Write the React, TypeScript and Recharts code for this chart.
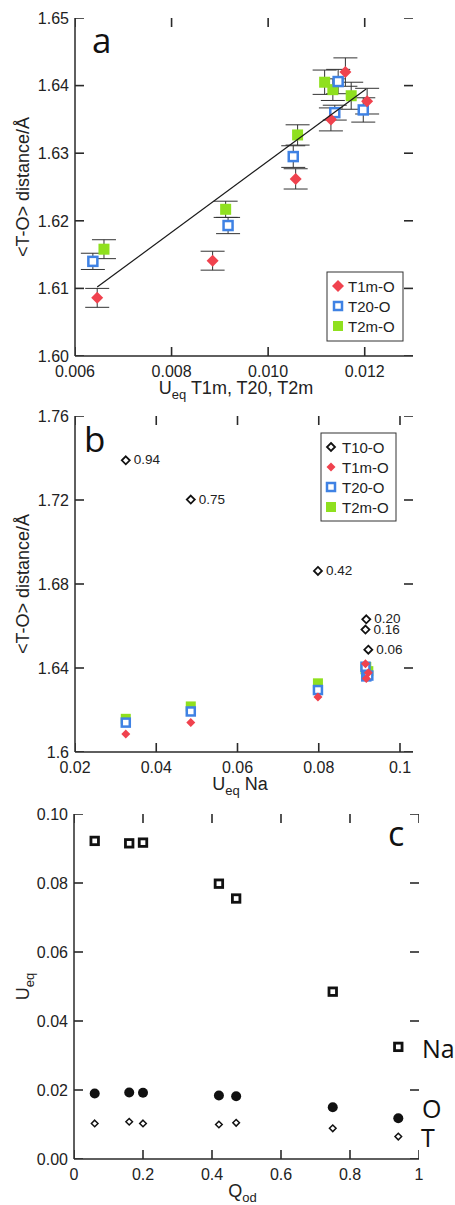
import React from 'react';
import { ScatterChart, Scatter, XAxis, YAxis, ErrorBar } from 'recharts';

// (a) U_eq of each tetrahedral site vs mean <T-O> distance (with e.s.d.)
const ueqT1m = [0.00646, 0.00885, 0.01057, 0.0113, 0.0116, 0.01205];
const distT1m = [1.6086, 1.6141, 1.6262, 1.635, 1.642, 1.6377];
const errT1m = [0.0014, 0.0014, 0.0015, 0.0017, 0.0021, 0.0019];

const ueqT20 = [0.00637, 0.00917, 0.01052, 0.01138, 0.01145, 0.01197];
const distT20 = [1.614, 1.6193, 1.6295, 1.636, 1.6406, 1.6364];
const errT20 = [0.0012, 0.0012, 0.0016, 0.0011, 0.0018, 0.0018];

const ueqT2m = [0.0066, 0.00912, 0.01061, 0.01117, 0.01134, 0.01172];
const distT2m = [1.6158, 1.6217, 1.6327, 1.6405, 1.6394, 1.6385];
const errT2m = [0.0014, 0.0012, 0.0015, 0.0018, 0.0016, 0.002];

const fitUeq = [0.00646, 0.01203];
const fitDist = [1.6102, 1.6395];

const ticksUeqT = [0.006, 0.008, 0.01, 0.012];
const ticksDistA = [1.6, 1.61, 1.62, 1.63, 1.64, 1.65];

// (b) same distances against U_eq of Na; T10 points tagged with Q_od
const qodB = [0.94, 0.75, 0.42, 0.2, 0.16, 0.06];
const ueqNa = [0.0325, 0.0485, 0.0798, 0.0917, 0.0915, 0.0922];
const distT10 = [1.7389, 1.7202, 1.6862, 1.6632, 1.6583, 1.6487];

const ticksUeqNa = [0.02, 0.04, 0.06, 0.08, 0.1];
const ticksDistB = [1.6, 1.64, 1.68, 1.72, 1.76];

// (c) U_eq of Na, O and T against Q_od
const qod = [0.06, 0.16, 0.2, 0.42, 0.47, 0.75, 0.94];
const ueqNaC = [0.0922, 0.0915, 0.0917, 0.0798, 0.0755, 0.0485, 0.0325];
const ueqO = [0.019, 0.0193, 0.0192, 0.0184, 0.0182, 0.015, 0.0118];
const ueqT = [0.0103, 0.0108, 0.0103, 0.01, 0.0105, 0.0089, 0.0065];

const ticksQod = [0, 0.2, 0.4, 0.6, 0.8, 1];
const ticksUeqC = [0, 0.02, 0.04, 0.06, 0.08, 0.1];

const SANS = '"Liberation Sans", Arial, sans-serif';
const HUMAN = '"Open Sans", "DejaVu Sans", sans-serif';
const INK = '#2a2a2a';
const RED = '#f0424e';
const BLUE = '#3f82e4';
const GREEN = '#8fe01e';

const pts = (xs: number[], ys: number[], errs?: number[], tags?: number[]) =>
  xs.map((x, i) => ({ x, y: ys[i], err: errs ? errs[i] : 0, q: tags ? tags[i] : 0 }));

// marker shapes
const diamond = (r: number, fill: string, stroke = 'none', sw = 0) => (p: any) => (
  <polygon
    points={`${p.cx},${p.cy - r} ${p.cx + r},${p.cy} ${p.cx},${p.cy + r} ${p.cx - r},${p.cy}`}
    fill={fill}
    stroke={stroke}
    strokeWidth={sw}
  />
);
const square = (s: number, fill: string, stroke = 'none', sw = 0) => (p: any) => (
  <rect x={p.cx - s / 2} y={p.cy - s / 2} width={s} height={s} fill={fill} stroke={stroke} strokeWidth={sw} />
);
const dot = (r: number) => (p: any) => <circle cx={p.cx} cy={p.cy} r={r} fill="#111" />;
const nothing = () => <g />;

const taggedDiamond = (p: any) => (
  <g>
    <polygon
      points={`${p.cx},${p.cy - 4} ${p.cx + 4},${p.cy} ${p.cx},${p.cy + 4} ${p.cx - 4},${p.cy}`}
      fill="#fff"
      stroke="#111"
      strokeWidth={1.8}
    />
    <text x={p.cx + 8} y={p.cy} dy="0.3em" fontFamily={SANS} fontSize={13.5} fill="#222">
      {p.payload.q.toFixed(2)}
    </text>
  </g>
);

// short inward tick marks on the frame, anchored at the tick values
const TICK_LEN = 9;
const mark = (dx: number, dy: number) => (p: any) => (
  <line x1={p.cx} y1={p.cy} x2={p.cx + dx * TICK_LEN} y2={p.cy + dy * TICK_LEN} stroke={INK} strokeWidth={1.6} />
);

// tick labels (tickSize/tickMargin 0 puts x/y on the axis line)
const leftLabel = (fmt: (v: number) => string) => (p: any) => (
  <text x={p.x - 6} y={p.y} dy="0.36em" textAnchor="end" fontFamily={SANS} fontSize={16} fill="#222">
    {fmt(p.payload.value)}
  </text>
);
const bottomLabel = (fmt: (v: number) => string) => (p: any) => (
  <text x={p.x} y={p.y + 21} textAnchor="middle" fontFamily={SANS} fontSize={16} fill="#222">
    {fmt(p.payload.value)}
  </text>
);

const frameLine = { stroke: INK, strokeWidth: 1.5 };

const yTitle = (children: React.ReactNode) => (p: any) => {
  const vb = p.viewBox;
  const cx = vb.x + 23;
  const cy = vb.y + vb.height / 2;
  return (
    <text x={cx} y={cy} dy="0.35em" textAnchor="middle" transform={`rotate(-90 ${cx} ${cy})`}
      fontFamily={SANS} fontSize={18} fill="#222">
      {children}
    </text>
  );
};
const xTitle = (children: React.ReactNode, dx = 0, dy = 38) => (p: any) => {
  const vb = p.viewBox;
  return (
    <text x={vb.x + vb.width / 2 + dx} y={vb.y + dy} textAnchor="middle" fontFamily={SANS} fontSize={18} fill="#222">
      {children}
    </text>
  );
};

const sub = (main: string, s: string, rest = '') => (
  <>
    <tspan>{main}</tspan>
    <tspan dy={5} fontSize={13}>{s}</tspan>
    <tspan dy={-5}>{rest}</tspan>
  </>
);

type FrameProps = {
  xDomain: number[];
  yDomain: number[];
  xTicks: number[];
  yTicks: number[];
  xFmt: (v: number) => string;
  yFmt: (v: number) => string;
  xH: number;
  yW: number;
  xLabel: any;
  yLabel: any;
};

const plain = { tickSize: 0, tickMargin: 0, tickLine: false, axisLine: frameLine, interval: 0 as const };

// four axes (labelled bottom/left, bare top/right) plus the inward tick marks
const frame = (f: FrameProps) => {
  const [x0, x1] = f.xDomain;
  const [y0, y1] = f.yDomain;
  const bottom = f.xTicks.map((v) => ({ x: v, y: y0 }));
  const top = f.xTicks.map((v) => ({ x: v, y: y1 }));
  const left = f.yTicks.map((v) => ({ x: x0, y: v }));
  const right = f.yTicks.map((v) => ({ x: x1, y: v }));
  return [
    <XAxis key="xb" xAxisId={0} type="number" dataKey="x" domain={f.xDomain} allowDataOverflow ticks={f.xTicks}
      height={f.xH} {...plain} tick={bottomLabel(f.xFmt)} label={f.xLabel} />,
    <XAxis key="xt" xAxisId="top" orientation="top" type="number" dataKey="x" domain={f.xDomain} allowDataOverflow
      ticks={f.xTicks} height={0} {...plain} tick={false} />,
    <YAxis key="yl" yAxisId={0} type="number" dataKey="y" domain={f.yDomain} allowDataOverflow ticks={f.yTicks}
      width={f.yW} {...plain} tick={leftLabel(f.yFmt)} label={f.yLabel} />,
    <YAxis key="yr" yAxisId="right" orientation="right" type="number" dataKey="y" domain={f.yDomain} allowDataOverflow
      ticks={f.yTicks} width={0} {...plain} tick={false} />,
    <Scatter key="mb" data={bottom} shape={mark(0, -1)} isAnimationActive={false} />,
    <Scatter key="mt" data={top} shape={mark(0, 1)} isAnimationActive={false} />,
    <Scatter key="ml" data={left} shape={mark(1, 0)} isAnimationActive={false} />,
    <Scatter key="mr" data={right} shape={mark(-1, 0)} isAnimationActive={false} />,
  ];
};

const t1mA = pts(ueqT1m, distT1m, errT1m);
const t20A = pts(ueqT20, distT20, errT20);
const t2mA = pts(ueqT2m, distT2m, errT2m);
const fitA = pts(fitUeq, fitDist);

const t10B = pts(ueqNa, distT10, undefined, qodB);
const t1mB = pts(ueqNa, distT1m);
const t20B = pts(ueqNa, distT20);
const t2mB = pts(ueqNa, distT2m);

const naC = pts(qod, ueqNaC);
const oC = pts(qod, ueqO);
const tC = pts(qod, ueqT);

const PanelA = () => (
  <ScatterChart width={455} height={410} margin={{ top: 18, right: 42, bottom: 10, left: 0 }}>
    {frame({
      xDomain: [0.006, 0.013], yDomain: [1.6, 1.65], xTicks: ticksUeqT, yTicks: ticksDistA,
      xFmt: (v) => v.toFixed(3), yFmt: (v) => v.toFixed(2), xH: 44, yW: 75,
      xLabel: xTitle(sub('U', 'eq', ' T1m, T20, T2m'), -8, 38),
      yLabel: yTitle('<T-O> distance/Å'),
    })}
    <Scatter data={t2mA} shape={square(11, GREEN)} isAnimationActive={false} />
    <Scatter data={t20A} shape={square(9, '#fff', BLUE, 2.5)} isAnimationActive={false} />
    <Scatter data={t1mA} shape={diamond(6, RED)} isAnimationActive={false} />
    {[t2mA, t20A, t1mA].map((d, i) => (
      <Scatter key={i} data={d} shape={nothing} isAnimationActive={false}>
        <ErrorBar dataKey="err" direction="y" width={12} stroke="#333" strokeWidth={1} />
      </Scatter>
    ))}
    <Scatter data={fitA} shape={nothing} line={{ stroke: '#1a1a1a', strokeWidth: 1.2 }} isAnimationActive={false} />
  </ScatterChart>
);

const PanelB = () => (
  <ScatterChart width={455} height={400} margin={{ top: 16, right: 42, bottom: 10, left: 0 }}>
    {frame({
      xDomain: [0.02, 0.1032], yDomain: [1.6, 1.76], xTicks: ticksUeqNa, yTicks: ticksDistB,
      xFmt: (v) => String(v), yFmt: (v) => String(v), xH: 38, yW: 75,
      xLabel: xTitle(sub('U', 'eq', ' Na'), -4, 38),
      yLabel: yTitle('<T-O> distance/Å'),
    })}
    <Scatter data={t2mB} shape={square(10, GREEN)} isAnimationActive={false} />
    <Scatter data={t20B} shape={square(8, '#fff', BLUE, 2.5)} isAnimationActive={false} />
    <Scatter data={t1mB} shape={diamond(4.5, RED)} isAnimationActive={false} />
    <Scatter data={t10B} shape={taggedDiamond} isAnimationActive={false} />
  </ScatterChart>
);

const PanelC = () => (
  <ScatterChart width={455} height={415} margin={{ top: 24, right: 36, bottom: 0, left: 0 }}>
    {frame({
      xDomain: [0, 1], yDomain: [0, 0.1], xTicks: ticksQod, yTicks: ticksUeqC,
      xFmt: (v) => String(v), yFmt: (v) => v.toFixed(2), xH: 46, yW: 74,
      xLabel: xTitle(sub('Q', 'od'), -4, 38),
      yLabel: yTitle(sub('U', 'eq')),
    })}
    <Scatter data={naC} shape={square(7.5, '#fff', '#111', 2.8)} isAnimationActive={false} />
    <Scatter data={oC} shape={dot(5)} isAnimationActive={false} />
    <Scatter data={tC} shape={diamond(3.3, '#fff', '#111', 1.5)} isAnimationActive={false} />
  </ScatterChart>
);

const legendRow = (icon: React.ReactNode, label: string, cy: number, tx: number) => (
  <g key={label}>
    {icon}
    <text x={tx} y={cy + 5.5} fontFamily={SANS} fontSize={15} fill="#222">{label}</text>
  </g>
);

const Overlay = () => (
  <svg width={455} height={1205} style={{ position: 'absolute', left: 0, top: 0, pointerEvents: 'none' }}>
    <text x={92} y={53} fontFamily={HUMAN} fontSize={35} fill="#111">a</text>
    <text x={84} y={452} fontFamily={HUMAN} fontSize={35} fill="#111">b</text>
    <text x={388} y={846} fontFamily={HUMAN} fontSize={34} fill="#111">c</text>
    <text x={422} y={1058} fontFamily={HUMAN} fontSize={25} fill="#111">Na</text>
    <text x={422} y={1118} fontFamily={HUMAN} fontSize={25} fill="#111">O</text>
    <text x={421} y={1147} fontFamily={HUMAN} fontSize={25} fill="#111">T</text>

    <rect x={327} y={272} width={76} height={69} fill="#fff" stroke="#333" strokeWidth={1} />
    {legendRow(diamond(6, RED)({ cx: 338, cy: 286 }), 'T1m-O', 286, 348)}
    {legendRow(square(8, '#fff', BLUE, 2.5)({ cx: 338, cy: 306 }), 'T20-O', 306, 348)}
    {legendRow(square(10, GREEN)({ cx: 338, cy: 326 }), 'T2m-O', 326, 348)}

    <rect x={321} y={433} width={75} height={88} fill="#fff" stroke="#333" strokeWidth={1} />
    {legendRow(diamond(4, '#fff', '#111', 1.8)({ cx: 331, cy: 447 }), 'T10-O', 447, 342)}
    {legendRow(diamond(4.5, RED)({ cx: 331, cy: 467 }), 'T1m-O', 467, 342)}
    {legendRow(square(8, '#fff', BLUE, 2.5)({ cx: 331, cy: 487 }), 'T20-O', 487, 342)}
    {legendRow(square(10, GREEN)({ cx: 331, cy: 507 }), 'T2m-O', 507, 342)}
  </svg>
);

const place = (top: number): React.CSSProperties => ({ position: 'absolute', left: 0, top });

export default function App() {
  return (
    <div style={{ position: 'absolute', left: 0, top: 0, width: 455, height: 1205, background: '#fff', overflow: 'hidden' }}>
      <div style={place(0)}><PanelA /></div>
      <div style={place(400)}><PanelB /></div>
      <div style={place(790)}><PanelC /></div>
      <Overlay />
    </div>
  );
}
